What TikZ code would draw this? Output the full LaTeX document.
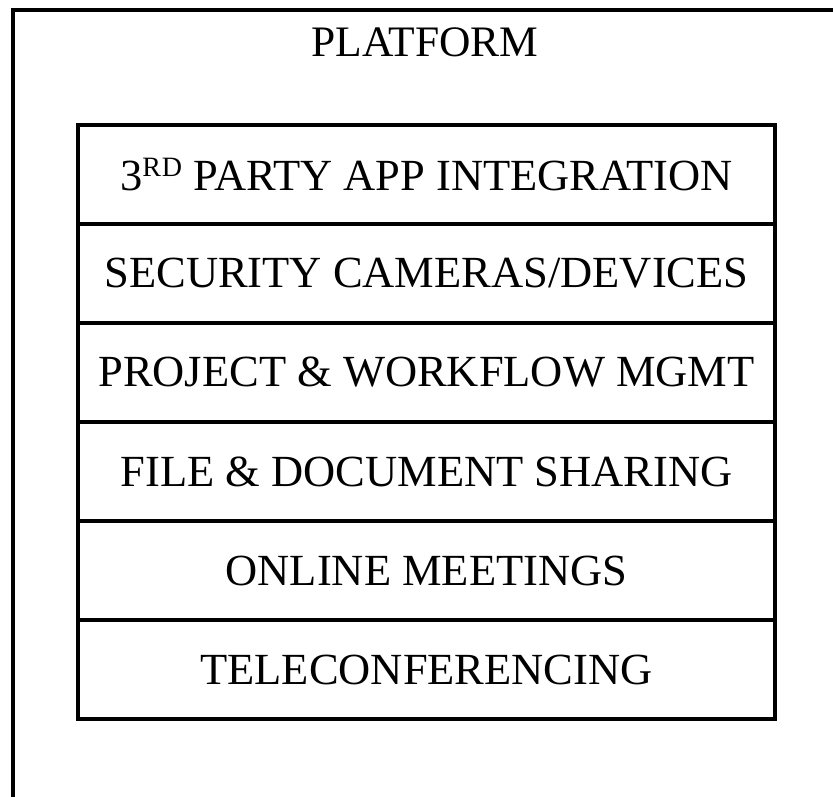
\documentclass[tikz,border=0pt]{standalone}
\usepackage{fontspec}
\setmainfont{Liberation Serif}
\newcommand{\supRD}{\raisebox{14pt}{\fontsize{28}{28}\selectfont R\kern1pt D}}
\begin{document}
\begin{tikzpicture}[x=1pt,y=-1pt,
  row/.style={draw,line width=3.5pt,minimum width=697pt,minimum height=99pt,inner sep=0pt,outer sep=0pt,anchor=north west,
    font=\fontsize{44.5}{50}\selectfont},
  title/.style={font=\fontsize{43.5}{48}\selectfont,inner sep=0pt}]
\useasboundingbox (0,0) rectangle (833,797);
\clip (0,0) rectangle (833,797);
\fill[white] (0,0) rectangle (833,797);
\draw[line width=4pt] (13,820) -- (13,10) -- (850,10);
\node[title] (platform) at (425,42) {PLATFORM};
\node[row] (r1) at (78,125) {3\supRD{} PARTY APP INTEGRATION};
\node[row] (r2) at (r1.south west) {SECURITY CAMERAS/DEVICES};
\node[row] (r3) at (r2.south west) {PROJECT \& WORKFLOW MGMT};
\node[row] (r4) at (r3.south west) {FILE \& DOCUMENT SHARING};
\node[row] (r5) at (r4.south west) {ONLINE MEETINGS};
\node[row] (r6) at (r5.south west) {TELECONFERENCING};
\end{tikzpicture}
\end{document}
